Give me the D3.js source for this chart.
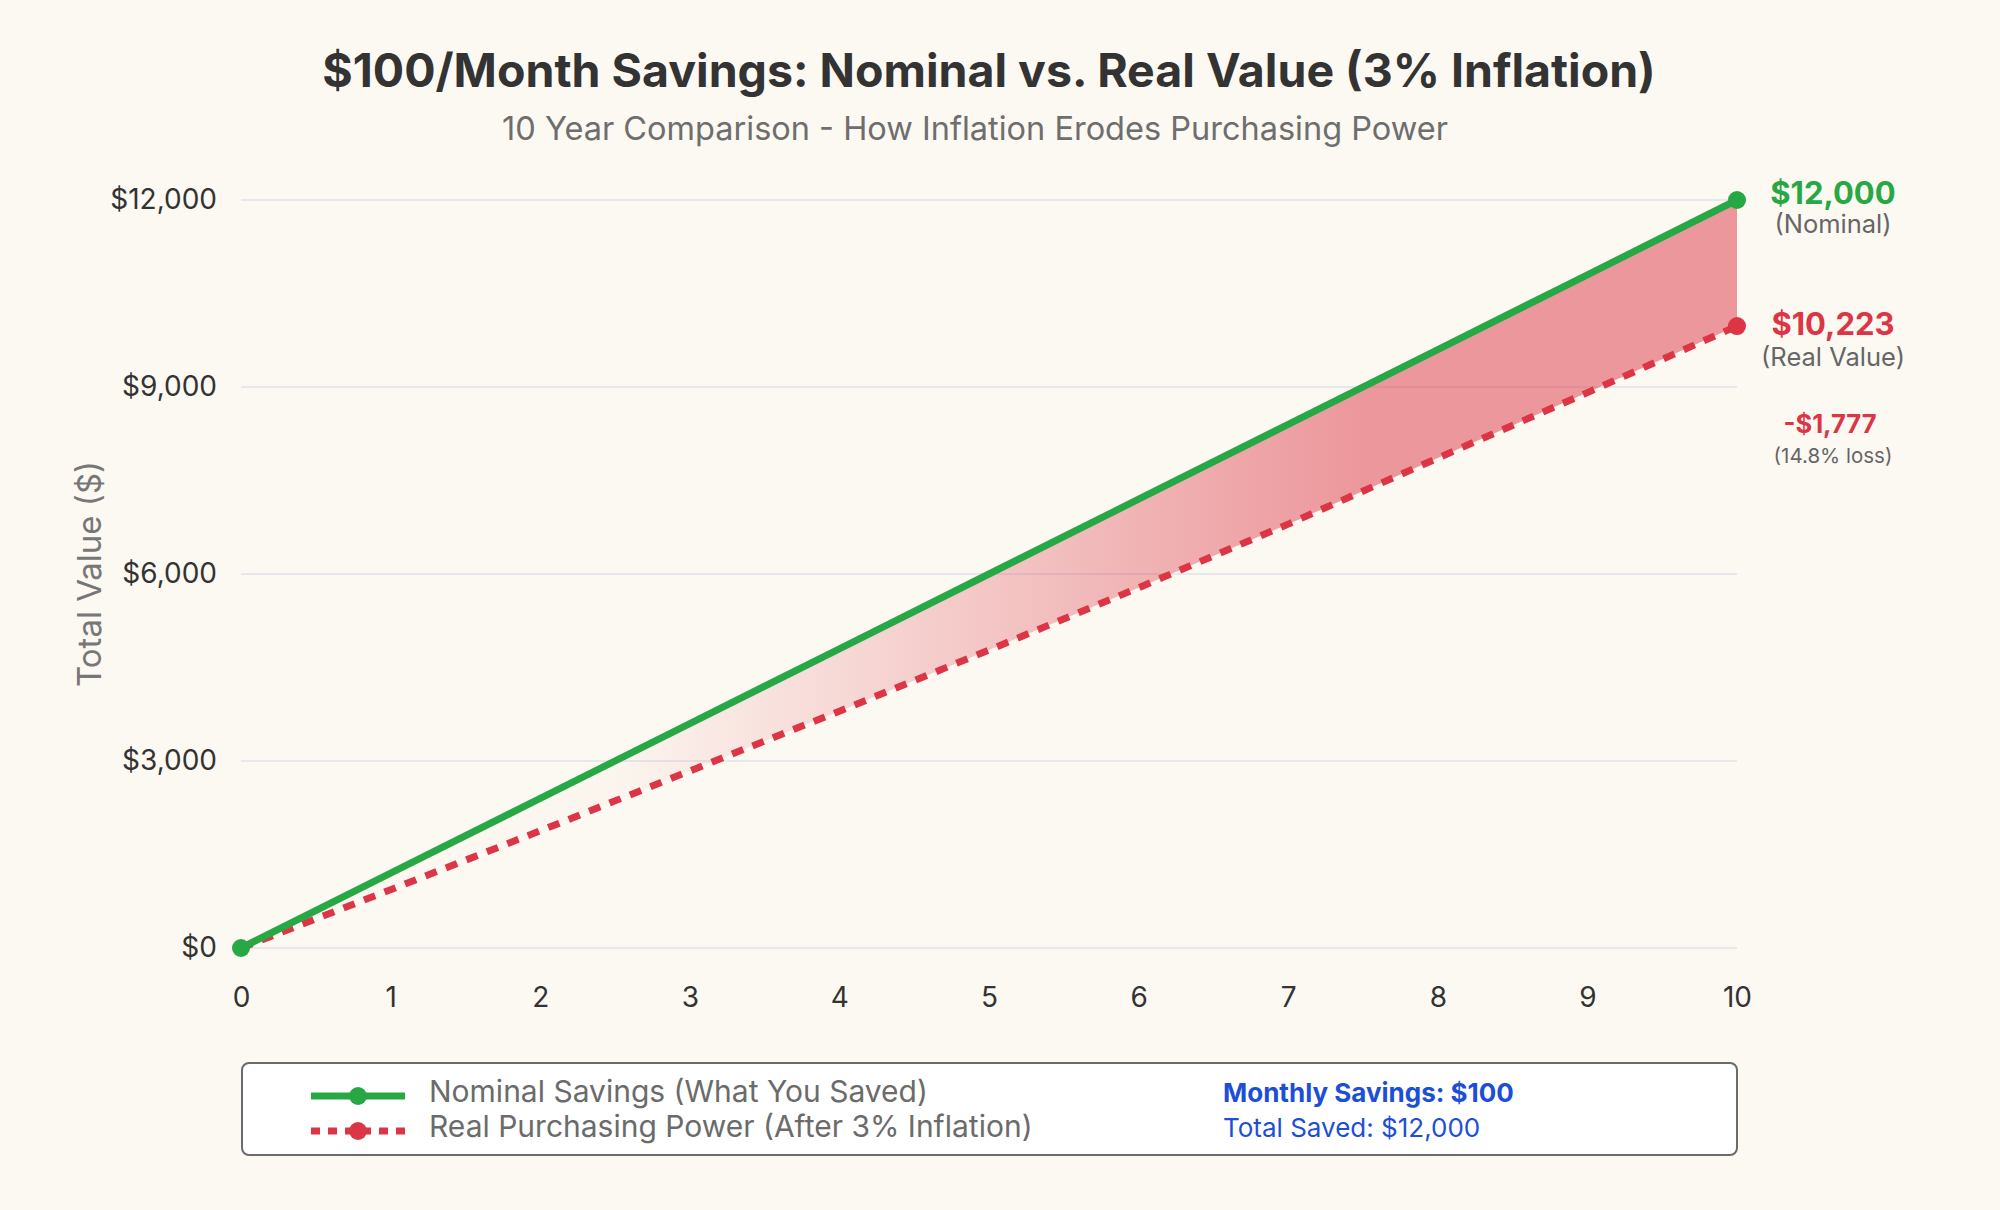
<!DOCTYPE html>
<html>
<head>
<meta charset="utf-8">
<script src="https://cdn.jsdelivr.net/npm/d3@7"></script>
<style>
  html, body { margin: 0; padding: 0; background: #fcf9f2; }
  svg { display: block; font-family: Inter, 'Noto Sans', sans-serif; }
</style>
</head>
<body>
<svg width="2000" height="1210"></svg>
<script>
const years = [0, 1, 2, 3, 4, 5, 6, 7, 8, 9, 10];
const nominal = [0, 1200, 2400, 3600, 4800, 6000, 7200, 8400, 9600, 10800, 12000];
const real = [0, 935, 1880, 2840, 3800, 4780, 5780, 6800, 7860, 8910, 9978];
const yTicks = [0, 3000, 6000, 9000, 12000];

const nominalEnd = '$12,000';
const realEnd = '$10,223';
const lossText = '-$1,777';
const lossPct = '(14.8% loss)';

const green = '#28a745';
const red = '#dc3545';
const blue = '#1d4ed8';

const svg = d3.select('svg');

const x = d3.scaleLinear().domain([0, 10]).range([241, 1737]);
const y = d3.scaleLinear().domain([0, 12000]).range([948, 200]);

const data = years.map((yr, i) => ({ year: yr, nominal: nominal[i], real: real[i] }));

// title
svg.append('text')
  .attr('x', 989)
  .attr('y', 87)
  .attr('text-anchor', 'middle')
  .attr('font-size', '46.5px')
  .attr('font-weight', 700)
  .attr('fill', '#333')
  .text('$100/Month Savings: Nominal vs. Real Value (3% Inflation)');

svg.append('text')
  .attr('x', 975)
  .attr('y', 140)
  .attr('text-anchor', 'middle')
  .attr('font-size', '32.5px')
  .attr('fill', '#6e6e6e')
  .text('10 Year Comparison - How Inflation Erodes Purchasing Power');

// grid
svg.append('g')
  .selectAll('line')
  .data(yTicks)
  .enter()
  .append('line')
  .attr('x1', x(0))
  .attr('x2', x(10))
  .attr('y1', (d) => y(d))
  .attr('y2', (d) => y(d))
  .attr('stroke', '#e6e8ec')
  .attr('stroke-width', 2);

// axes
const yAxis = svg.append('g')
  .attr('transform', `translate(${x(0)}, 0)`)
  .call(d3.axisLeft(y)
    .tickValues(yTicks)
    .tickSize(0)
    .tickPadding(24)
    .tickFormat((d) => '$' + d3.format(',')(d)));

const xAxis = svg.append('g')
  .attr('transform', `translate(0, ${y(0)})`)
  .call(d3.axisBottom(x)
    .tickValues(years)
    .tickSize(0)
    .tickPadding(39)
    .tickFormat(d3.format('d')));

[yAxis, xAxis].forEach((g) => {
  g.select('.domain').remove();
  g.selectAll('text')
    .attr('font-size', '28px')
    .attr('font-family', 'Inter, sans-serif')
    .attr('fill', '#333');
});

svg.append('text')
  .attr('transform', `translate(89, ${(y(0) + y(12000)) / 2}) rotate(-90)`)
  .attr('text-anchor', 'middle')
  .attr('dy', '0.35em')
  .attr('font-size', '33px')
  .attr('fill', '#777')
  .text('Total Value ($)');

// gap fill
const defs = svg.append('defs');
const grad = defs.append('linearGradient')
  .attr('id', 'lossGrad')
  .attr('gradientUnits', 'userSpaceOnUse')
  .attr('x1', x(0)).attr('y1', 0)
  .attr('x2', x(10)).attr('y2', 0);
grad.append('stop').attr('offset', '0%').attr('stop-color', red).attr('stop-opacity', 0);
grad.append('stop').attr('offset', '25%').attr('stop-color', red).attr('stop-opacity', 0.02);
grad.append('stop').attr('offset', '75%').attr('stop-color', red).attr('stop-opacity', 0.5);
grad.append('stop').attr('offset', '100%').attr('stop-color', red).attr('stop-opacity', 0.5);

const area = d3.area()
  .x((d) => x(d.year))
  .y0((d) => y(d.real))
  .y1((d) => y(d.nominal));

svg.append('path')
  .datum(data)
  .attr('d', area)
  .attr('fill', 'url(#lossGrad)');

// lines
const realLine = d3.line().x((d) => x(d.year)).y((d) => y(d.real));
const nomLine = d3.line().x((d) => x(d.year)).y((d) => y(d.nominal));

svg.append('path')
  .datum(data)
  .attr('d', realLine)
  .attr('fill', 'none')
  .attr('stroke', red)
  .attr('stroke-width', 7)
  .attr('stroke-dasharray', '12,10');

svg.append('path')
  .datum(data)
  .attr('d', nomLine)
  .attr('fill', 'none')
  .attr('stroke', green)
  .attr('stroke-width', 7);

const last = data[data.length - 1];

svg.append('circle')
  .attr('cx', x(last.year)).attr('cy', y(last.real))
  .attr('r', 9).attr('fill', red);

svg.selectAll('.nomdot')
  .data([data[0], last])
  .enter()
  .append('circle')
  .attr('class', 'nomdot')
  .attr('cx', (d) => x(d.year))
  .attr('cy', (d) => y(d.nominal))
  .attr('r', 9)
  .attr('fill', green);

// end labels
const labX = 1833;
const endLabels = [
  { text: nominalEnd, y: 204, size: 31, weight: 700, color: green },
  { text: '(Nominal)', y: 233, size: 25.5, weight: 400, color: '#666' },
  { text: realEnd, y: 335, size: 31, weight: 700, color: red },
  { text: '(Real Value)', y: 366, size: 25.5, weight: 400, color: '#666' },
  { text: lossText, y: 433, size: 25.5, weight: 700, color: red },
  { text: lossPct, y: 463, size: 20.5, weight: 400, color: '#666' }
];

svg.append('g')
  .selectAll('text')
  .data(endLabels)
  .enter()
  .append('text')
  .attr('x', (d) => d.text === lossText ? labX - 3 : labX)
  .attr('y', (d) => d.y)
  .attr('text-anchor', 'middle')
  .attr('font-size', (d) => d.size + 'px')
  .attr('font-weight', (d) => d.weight)
  .attr('fill', (d) => d.color)
  .text((d) => d.text);

// legend
const legend = svg.append('g');

legend.append('rect')
  .attr('x', 242)
  .attr('y', 1063)
  .attr('width', 1495)
  .attr('height', 92)
  .attr('rx', 7)
  .attr('fill', '#fff')
  .attr('stroke', '#6b6b6b')
  .attr('stroke-width', 2);

const legendItems = [
  { label: 'Nominal Savings (What You Saved)', color: green, dash: null, y: 1096 },
  { label: 'Real Purchasing Power (After 3% Inflation)', color: red, dash: '9,8', y: 1131 }
];

const items = legend.selectAll('.item')
  .data(legendItems)
  .enter()
  .append('g')
  .attr('class', 'item');

items.append('line')
  .attr('x1', 311).attr('x2', 405)
  .attr('y1', (d) => d.y).attr('y2', (d) => d.y)
  .attr('stroke', (d) => d.color)
  .attr('stroke-width', 7)
  .attr('stroke-dasharray', (d) => d.dash);

items.append('circle')
  .attr('cx', 358).attr('cy', (d) => d.y)
  .attr('r', 9)
  .attr('fill', (d) => d.color);

items.append('text')
  .attr('x', 429)
  .attr('y', (d) => d.y + 6)
  .attr('font-size', '30px')
  .attr('fill', '#6b6b6b')
  .text((d) => d.label);

legend.append('text')
  .attr('x', 1223).attr('y', 1102)
  .attr('font-size', '26px')
  .attr('font-weight', 700)
  .attr('fill', blue)
  .text('Monthly Savings: $100');

legend.append('text')
  .attr('x', 1223).attr('y', 1137)
  .attr('font-size', '26px')
  .attr('fill', blue)
  .text('Total Saved: $12,000');
</script>
</body>
</html>
